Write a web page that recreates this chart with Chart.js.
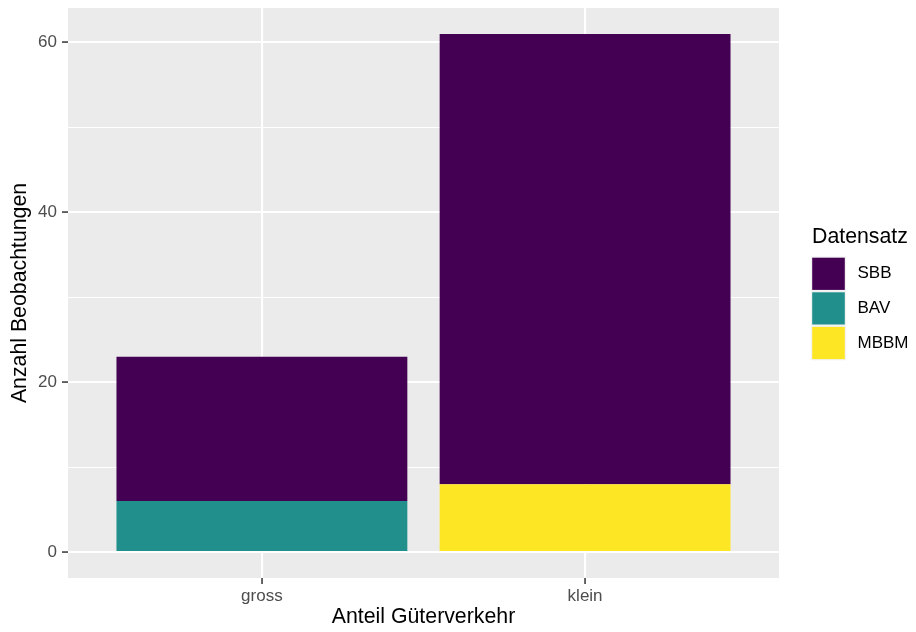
<!DOCTYPE html>
<html><head><meta charset="utf-8">
<script src="https://cdn.jsdelivr.net/npm/chart.js@4"></script>
<style>html,body{margin:0;padding:0;background:#fff}#wrap{width:916px;height:632px}</style>
</head><body><div id="wrap"><canvas id="c" width="916" height="632"></canvas></div>
<script>
// ---- data ----
const categories = ['gross', 'klein'];
const seriesNames = ['SBB', 'BAV', 'MBBM'];       // legend order
const sbbValues  = [17, 53];
const bavValues  = [6, null];
const mbbmValues = [null, 8];
const yMajorTicks = [0, 20, 40, 60];
const yMinorTicks = [10, 30, 50];

// ---- styles ----
const seriesColors = { SBB: '#440154', BAV: '#21908C', MBBM: '#FDE725' };
const FONT = '"Liberation Sans", Arial, Helvetica, sans-serif';

function points(vals) {
  return categories.map((c, i) => ({ x: i + 1, y: vals[i] })).filter(p => p.y !== null);
}
const totals = categories.map((c, i) => (sbbValues[i] || 0) + (bavValues[i] || 0) + (mbbmValues[i] || 0));
const yMax = Math.max(...totals);
const yPad = yMax * 0.05;

const panelBg = {
  id: 'panelBg',
  beforeDraw(chart) {
    const { ctx, chartArea: a } = chart;
    ctx.save();
    ctx.fillStyle = '#EBEBEB';
    ctx.fillRect(a.left, a.top, a.right - a.left, a.bottom - a.top);
    ctx.restore();
  }
};

const legendPlugin = {
  id: 'ggLegend',
  afterDraw(chart) {
    const ctx = chart.ctx;
    ctx.save();
    ctx.fillStyle = '#000000';
    ctx.font = '21.3px ' + FONT;
    ctx.textAlign = 'left';
    ctx.textBaseline = 'alphabetic';
    ctx.fillText('Datensatz', 812, 243);
    const pitch = 34.6, x0 = 811, y0 = 256.5;
    ctx.fillStyle = '#F2F2F2';
    ctx.fillRect(x0, y0, 35, pitch * seriesNames.length);
    seriesNames.forEach((name, i) => {
      const y = y0 + i * pitch;
      ctx.fillStyle = seriesColors[name];
      ctx.fillRect(x0 + 1.2, y + 1.2, 35 - 2.4, pitch - 2.4);
      ctx.fillStyle = '#000000';
      ctx.font = '17px ' + FONT;
      ctx.textBaseline = 'middle';
      ctx.fillText(name, 857.5, y + pitch / 2);
    });
    ctx.restore();
  }
};

new Chart(document.getElementById('c'), {
  type: 'bar',
  data: {
    datasets: [
      { label: 'BAV',  data: points(bavValues),  backgroundColor: seriesColors.BAV,  borderWidth: 0 },
      { label: 'MBBM', data: points(mbbmValues), backgroundColor: seriesColors.MBBM, borderWidth: 0 },
      { label: 'SBB',  data: points(sbbValues),  backgroundColor: seriesColors.SBB,  borderWidth: 0 }
    ]
  },
  options: {
    responsive: false,
    devicePixelRatio: 1,
    animation: false,
    barPercentage: 0.9,
    categoryPercentage: 1.0,
    layout: { padding: { left: 0, top: 8, right: 137, bottom: 0 } },
    plugins: { legend: { display: false }, tooltip: { enabled: false } },
    scales: {
      x: {
        type: 'linear', stacked: true, bounds: 'data', offset: false,
        min: 0.4, max: categories.length + 0.6,
        afterBuildTicks: s => { s.ticks = categories.map((c, i) => ({ value: i + 1 })); },
        afterFit: s => { s.height = 54; s.paddingLeft = 0; s.paddingRight = 0; },
        ticks: {
          callback: v => categories[v - 1] !== undefined ? categories[v - 1] : '',
          color: '#4D4D4D', font: { size: 17, family: FONT }, padding: 2,
          autoSkip: false, maxRotation: 0
        },
        grid: { offset: false, color: '#FFFFFF', lineWidth: 2.1, tickLength: 6, tickColor: '#333333', tickWidth: 1.5 },
        border: { display: false },
        title: { display: true, text: 'Anteil Güterverkehr', color: '#000000',
                 font: { size: 21.3, family: FONT, lineHeight: 1 }, padding: { top: 0, bottom: 3.8 } }
      },
      y: {
        type: 'linear', stacked: true, bounds: 'data',
        min: -yPad, max: yMax + yPad,
        afterBuildTicks: s => {
          s.ticks = [...yMajorTicks, ...yMinorTicks].sort((a, b) => a - b).map(v => ({ value: v }));
        },
        afterFit: s => { s.width = 68; s.paddingTop = 0; s.paddingBottom = 0; },
        ticks: {
          callback: v => yMajorTicks.includes(v) ? String(v) : '',
          color: '#4D4D4D', font: { size: 17, family: FONT }, padding: 5
        },
        grid: {
          color: '#FFFFFF',
          lineWidth: c => (c.tick && yMajorTicks.includes(c.tick.value)) ? 2.1 : 1.05,
          tickLength: 6,
          tickColor: c => (c.tick && yMajorTicks.includes(c.tick.value)) ? '#333333' : 'rgba(0,0,0,0)',
          tickWidth: 1.5
        },
        border: { display: false },
        title: { display: true, text: 'Anzahl Beobachtungen', color: '#000000',
                 font: { size: 21.3, family: FONT, lineHeight: 1 }, padding: { top: 9, bottom: 0 } }
      }
    }
  },
  plugins: [panelBg, legendPlugin]
});
</script>
</body></html>
